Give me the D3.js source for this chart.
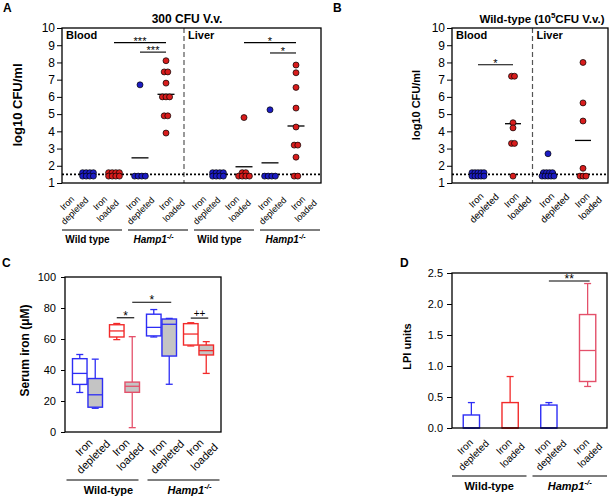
<!DOCTYPE html>
<html>
<head>
<meta charset="utf-8">
<script src="https://cdn.jsdelivr.net/npm/d3@7"></script>
<style>
  body { margin: 0; background: #fff; }
  text { font-family: "Liberation Sans", Arial, Helvetica, sans-serif; fill: #000; }
</style>
</head>
<body>
<script>
// ---------- data ----------
var catLabels = [["Iron", "depleted"], ["Iron", "loaded"]];
var genotypes = ["Wild type", "Hamp1"];

// A: 300 CFU V.v., log10 CFU/ml, groups = WT depleted, WT loaded, Hamp depleted, Hamp loaded
var aBlood = [
  [1.6, 1.6, 1.6, 1.6, 1.4, 1.4, 1.4, 1.4],
  [1.6, 1.6, 1.6, 1.6, 1.4, 1.4, 1.4, 1.4],
  [6.7, 1.4, 1.4, 1.4, 1.4],
  [8.1, 7.45, 7.45, 6.8, 6.0, 6.0, 6.0, 4.9, 4.9, 3.9]
];
var aLiver = [
  [1.6, 1.6, 1.6, 1.6, 1.4, 1.4, 1.4, 1.4],
  [4.8, 1.6, 1.6, 1.4, 1.4, 1.4, 1.4],
  [5.25, 1.4, 1.4, 1.4, 1.4],
  [7.85, 7.4, 6.55, 5.35, 4.25, 3.2, 3.2, 2.5, 1.4, 1.4]
];
var aSig = [
  { tissue: 0, from: 1, to: 3, y: 9.15, label: "***" },
  { tissue: 0, from: 2, to: 3, y: 8.6, label: "***" },
  { tissue: 1, from: 1, to: 3, y: 9.15, label: "*" },
  { tissue: 1, from: 2, to: 3, y: 8.55, label: "*" }
];

// B: wild-type, 10^5 CFU V.v., groups = depleted, loaded
var bBlood = [
  [1.6, 1.6, 1.6, 1.6, 1.6, 1.4, 1.4, 1.4, 1.4, 1.4],
  [7.2, 7.2, 4.5, 4.2, 3.3, 3.3, 1.4]
];
var bLiver = [
  [2.7, 1.6, 1.6, 1.6, 1.6, 1.4, 1.4, 1.4, 1.4, 1.4],
  [8.0, 5.65, 4.6, 1.85, 1.4, 1.4, 1.4]
];
var bSig = [{ tissue: 0, from: 0, to: 1, y: 7.87, label: "*" }];

var yTicksCFU = [1, 2, 3, 4, 5, 6, 7, 8, 9, 10];
var detectLimit = 1.5;

// C: serum iron (uM), box stats [min, q1, median, q3, max]
var cOpen = [
  [25.5, 30.7, 37.8, 47.3, 50],
  [59.6, 61.3, 65.2, 69.2, 70],
  [61.3, 62, 67.5, 76, 79],
  [55.5, 56.1, 63.2, 69.9, 70.5]
];
var cGray = [
  [15.3, 16, 24, 34.5, 47],
  [2.8, 25.6, 29.5, 32.2, 61.5],
  [30.8, 49, 69.5, 72.9, 73.3],
  [37.8, 49.7, 52.5, 56.1, 58.3]
];
var cSig = [
  { from: [1, 0], to: [1, 1], y: 73.7, label: "*" },
  { from: [1, 1], to: [2, 1], y: 83.7, label: "*" },
  { from: [3, 0], to: [3, 1], y: 73.5, label: "++" }
];
var cTicks = [0, 20, 40, 60, 80, 100];

// D: LPI units
var dBoxes = [
  [0, 0, 0, 0.21, 0.41],
  [0, 0, 0, 0.41, 0.83],
  [0, 0, 0, 0.37, 0.41],
  [0.67, 0.75, 1.25, 1.83, 2.33]
];
var dSig = [{ from: 2, to: 3, y: 2.37, label: "**" }];
var dTicks = [0, 0.5, 1, 1.5, 2, 2.5];

// ---------- styles ----------
var DOT_BLUE = "#1c1cc4", DOT_RED = "#d81c1c";
var BOX_BLUE = "#2d2df5", BOX_RED = "#f22a2a", BOX_RED_SOFT = "#e4506a";
var GRAY = "#c4c4c4", LINE_GRAY = "#555";

var svg = d3.select("body").append("svg")
  .attr("width", 612)
  .attr("height", 501);
svg.append("rect").attr("width", 612).attr("height", 501).attr("fill", "#fff");

function label(g, x, y, s, size, bold, anchor) {
  return g.append("text")
    .attr("x", x).attr("y", y)
    .attr("text-anchor", anchor || "start")
    .style("font-size", size + "px")
    .style("font-weight", bold ? "bold" : "normal")
    .text(s);
}

function hampLabel(g, x, y, size) {
  var t = g.append("text").attr("x", x).attr("y", y)
    .attr("text-anchor", "middle")
    .style("font-size", size + "px")
    .style("font-weight", "bold")
    .style("font-style", "italic");
  t.append("tspan").text("Hamp1");
  t.append("tspan").attr("dy", -size * 0.45).style("font-size", (size * 0.7) + "px").text("-/-");
}

function yLabel(g, x, y, s, size) {
  g.append("text")
    .attr("transform", "translate(" + x + "," + y + ") rotate(-90)")
    .attr("text-anchor", "middle")
    .style("font-size", size + "px")
    .style("font-weight", "bold")
    .text(s);
}

function rotLabel(g, x, y, lines, size) {
  var tg = g.append("g").attr("transform", "translate(" + x + "," + y + ") rotate(-45)");
  lines.forEach(function (l, i) {
    tg.append("text")
      .attr("y", (i - 0.5) * size * 1.2)
      .attr("dominant-baseline", "central")
      .attr("text-anchor", "middle")
      .style("font-size", size + "px")
      .text(l);
  });
}

function frame(g, c) {
  g.append("rect")
    .attr("x", c.left).attr("y", c.top)
    .attr("width", c.right - c.left).attr("height", c.bottom - c.top)
    .attr("fill", "none").attr("stroke", "#000").attr("stroke-width", 1.3);
}

function styleAxis(ax, size) {
  ax.select(".domain").remove();
  ax.selectAll("line").attr("stroke", "#000");
  ax.selectAll("text").style("font-size", size + "px").attr("fill", "#000");
}

// spread equal values side by side
function spread(vals, gap) {
  var counts = d3.rollup(vals, function (v) { return v.length; }, function (d) { return d; });
  var seen = new Map();
  return vals.map(function (v) {
    var n = counts.get(v), k = seen.get(v) || 0;
    seen.set(v, k + 1);
    return { v: v, dx: (k - (n - 1) / 2) * gap };
  });
}

function sigBar(g, x1, x2, yy, s, size) {
  g.append("line").attr("x1", x1).attr("x2", x2).attr("y1", yy).attr("y2", yy)
    .attr("stroke", "#000").attr("stroke-width", 1.1);
  label(g, (x1 + x2) / 2, yy + (s === "++" ? -1.5 : 2), s, size, false, "middle");
}

// ---------- dot plots (A, B) ----------
function dotPanel(cfg) {
  var g = svg.append("g");
  var y = d3.scaleLinear().domain([1, 10]).range([cfg.bottom, cfg.top]);

  var slots = [];
  cfg.tissues.forEach(function (t, ti) {
    if (ti > 0 && cfg.gap) slots.push("gap");
    t.groups.forEach(function (_, gi) { slots.push(ti + "-" + gi); });
  });
  var catSlots = slots.filter(function (s) { return s !== "gap"; });
  var x = d3.scalePoint().domain(slots).range(cfg.xRange);
  var lx = d3.scalePoint().domain(catSlots).range(cfg.labelRange);

  var ax = g.append("g").attr("transform", "translate(" + cfg.left + ",0)")
    .call(d3.axisLeft(y).tickValues(yTicksCFU).tickSize(5).tickPadding(2).tickFormat(d3.format("d")));
  styleAxis(ax, cfg.tickSize);

  var n0 = cfg.tissues[0].groups.length;
  var xd = (x("0-" + (n0 - 1)) + x("1-0")) / 2 + cfg.divShift;
  g.append("line").attr("x1", xd).attr("x2", xd).attr("y1", cfg.top).attr("y2", cfg.bottom)
    .attr("stroke", LINE_GRAY).attr("stroke-width", 1.2).attr("stroke-dasharray", "5,3");

  cfg.tissues.forEach(function (t, ti) {
    label(g, (ti === 0 ? cfg.left : xd) + 4, cfg.top + 11, t.name, cfg.tissueSize, true);
  });

  g.append("line")
    .attr("x1", cfg.left).attr("x2", cfg.right)
    .attr("y1", y(detectLimit)).attr("y2", y(detectLimit))
    .attr("stroke", "#000").attr("stroke-width", 1.8).attr("stroke-dasharray", "2,2");

  cfg.tissues.forEach(function (t, ti) {
    t.groups.forEach(function (vals, gi) {
      var cx = x(ti + "-" + gi);
      var m = d3.mean(vals);
      g.append("line")
        .attr("x1", cx - cfg.meanW / 2).attr("x2", cx + cfg.meanW / 2)
        .attr("y1", y(m)).attr("y2", y(m))
        .attr("stroke", "#000").attr("stroke-width", 1.3);
      g.selectAll(null).data(spread(vals, cfg.dotGap)).enter().append("circle")
        .attr("cx", function (d) { return cx + d.dx; })
        .attr("cy", function (d) { return y(d.v); })
        .attr("r", cfg.r)
        .attr("fill", gi % 2 === 0 ? DOT_BLUE : DOT_RED)
        .attr("stroke", "#000").attr("stroke-width", 0.7);
    });
  });

  cfg.sig.forEach(function (s) {
    sigBar(g, x(s.tissue + "-" + s.from), x(s.tissue + "-" + s.to), y(s.y), s.label, 11);
  });

  frame(g, cfg);

  catSlots.forEach(function (s) {
    var gi = +s.split("-")[1];
    rotLabel(g, lx(s), cfg.bottom + cfg.labelDy, catLabels[gi % 2], cfg.labelSize);
  });

  if (cfg.genoLines) {
    cfg.tissues.forEach(function (t, ti) {
      genotypes.forEach(function (gname, k) {
        var a = lx(ti + "-" + (2 * k)), b = lx(ti + "-" + (2 * k + 1));
        g.append("line").attr("x1", a - 9).attr("x2", b + 18)
          .attr("y1", cfg.genoY).attr("y2", cfg.genoY)
          .attr("stroke", LINE_GRAY).attr("stroke-width", 1.5);
        if (k === 0) label(g, (a + b) / 2, cfg.genoY + 13, gname, 10, true, "middle");
        else hampLabel(g, (a + b) / 2, cfg.genoY + 13, 10);
      });
    });
  }
}

// ---------- box plots (C, D) ----------
function boxPanel(cfg) {
  var g = svg.append("g");
  var y = d3.scaleLinear().domain(cfg.yDomain).range([cfg.bottom, cfg.top]);
  var x = d3.scaleBand().domain(d3.range(4)).range([cfg.left, cfg.right])
    .paddingInner(cfg.padIn).paddingOuter(cfg.padOut);
  var sub = d3.scaleBand().domain(d3.range(cfg.series.length))
    .range([cfg.subInset, x.bandwidth() - cfg.subInset]).paddingInner(cfg.subPad);

  var ax = g.append("g").attr("transform", "translate(" + cfg.left + ",0)")
    .call(d3.axisLeft(y).tickValues(cfg.ticks).tickSize(cfg.tickLen).tickPadding(cfg.tickPad)
      .tickFormat(d3.format(cfg.fmt)));
  styleAxis(ax, cfg.tickSize);

  function boxX(ci, si) { return x(ci) + sub(si) + sub.bandwidth() / 2; }

  cfg.series.forEach(function (ser, si) {
    ser.data.forEach(function (st, ci) {
      var cx = boxX(ci, si), bw = sub.bandwidth();
      var col = cfg.colors[si][ci];
      var cap = cfg.capW / 2;
      [[st[0], st[1]], [st[3], st[4]]].forEach(function (p) {
        g.append("line").attr("x1", cx).attr("x2", cx).attr("y1", y(p[0])).attr("y2", y(p[1]))
          .attr("stroke", col).attr("stroke-width", 1.3);
      });
      [st[0], st[4]].forEach(function (v) {
        g.append("line").attr("x1", cx - cap).attr("x2", cx + cap).attr("y1", y(v)).attr("y2", y(v))
          .attr("stroke", col).attr("stroke-width", 1.3);
      });
      g.append("rect")
        .attr("x", cx - bw / 2).attr("y", y(st[3]))
        .attr("width", bw).attr("height", y(st[1]) - y(st[3]))
        .attr("fill", ser.fill).attr("stroke", col).attr("stroke-width", 1.4);
      g.append("line").attr("x1", cx - bw / 2).attr("x2", cx + bw / 2)
        .attr("y1", y(st[2])).attr("y2", y(st[2]))
        .attr("stroke", col).attr("stroke-width", 1.3);
    });
  });

  cfg.sig.forEach(function (s) {
    var x1 = cfg.series.length > 1 ? boxX(s.from[0], s.from[1]) : boxX(s.from, 0);
    var x2 = cfg.series.length > 1 ? boxX(s.to[0], s.to[1]) : boxX(s.to, 0);
    sigBar(g, x1, x2 + 2, y(s.y), s.label, s.label === "++" ? 10 : 12);
  });

  frame(g, cfg);

  d3.range(4).forEach(function (ci) {
    var cx = x(ci) + x.bandwidth() / 2;
    rotLabel(g, cx + cfg.labelDx, cfg.bottom + cfg.labelDy, catLabels[ci % 2], cfg.labelSize);
  });

  var step = x.step();
  var c0 = x(0) + x.bandwidth() / 2, c3 = x(3) + x.bandwidth() / 2;
  var mid = (x(1) + x(2) + x.bandwidth()) / 2;
  var spans = [[c0 - step / 2 - cfg.lineOut, mid - cfg.lineIn], [mid + cfg.lineIn, c3 + step / 2 + cfg.lineOut]];
  spans.forEach(function (sp, k) {
    g.append("line").attr("x1", sp[0]).attr("x2", sp[1]).attr("y1", cfg.genoY).attr("y2", cfg.genoY)
      .attr("stroke", LINE_GRAY).attr("stroke-width", 1.5);
    var lxm = (sp[0] + sp[1]) / 2 + cfg.genoDx;
    if (k === 0) label(g, lxm, cfg.genoY + 14, "Wild-type", 11, true, "middle");
    else hampLabel(g, lxm, cfg.genoY + 14, 11);
  });

  yLabel(g, cfg.yLabelX, (cfg.top + cfg.bottom) / 2 - 4, cfg.yLabel, cfg.yLabelSize);
}

// ---------- panel A ----------
label(svg, 3, 12, "A", 12, true);
label(svg, 187, 23, "300 CFU V.v.", 12, true, "middle");
yLabel(svg, 22, 105, "log10 CFU/ml", 13);
dotPanel({
  left: 62, right: 321, top: 28, bottom: 183,
  tissues: [{ name: "Blood", groups: aBlood }, { name: "Liver", groups: aLiver }],
  gap: true, xRange: [88, 296], labelRange: [71, 302], divShift: -8,
  tickSize: 12, tissueSize: 11, labelSize: 9, labelDy: 24,
  meanW: 17, dotGap: 3.6, r: 3,
  sig: aSig, genoLines: true, genoY: 230
});

// ---------- panel B ----------
label(svg, 333, 12, "B", 12, true);
var bt = svg.append("text").attr("x", 542).attr("y", 23).attr("text-anchor", "middle")
  .style("font-size", "11.5px").style("font-weight", "bold");
bt.append("tspan").text("Wild-type (10");
bt.append("tspan").attr("dy", -5).style("font-size", "8px").text("5");
bt.append("tspan").attr("dy", 5).text("CFU V.v.)");
yLabel(svg, 420, 105, "log10 CFU/ml", 11);
dotPanel({
  left: 452, right: 608, top: 28, bottom: 183,
  tissues: [{ name: "Blood", groups: bBlood }, { name: "Liver", groups: bLiver }],
  gap: false, xRange: [478, 583], labelRange: [480, 586], divShift: 2,
  tickSize: 12, tissueSize: 11, labelSize: 9.5, labelDy: 21,
  meanW: 16, dotGap: 3, r: 3,
  sig: bSig, genoLines: false
});

// ---------- panel C ----------
label(svg, 2, 267, "C", 12, true);
boxPanel({
  left: 65, right: 221, top: 277, bottom: 432,
  yDomain: [0, 100], ticks: cTicks, fmt: "d", tickLen: 4, tickPad: 5, tickSize: 11,
  padIn: 0, padOut: 0.108, subInset: 3.5, subPad: 0.06, capW: 7,
  series: [{ fill: "#fff", data: cOpen }, { fill: GRAY, data: cGray }],
  colors: [[BOX_BLUE, BOX_RED, BOX_BLUE, BOX_RED], [BOX_BLUE, BOX_RED_SOFT, BOX_BLUE, BOX_RED]],
  sig: cSig,
  labelDx: 1, labelDy: 20, labelSize: 11,
  genoY: 480, lineOut: 2.5, lineIn: 4.5, genoDx: 6,
  yLabel: "Serum iron (\u03bcM)", yLabelX: 29, yLabelSize: 12
});

// ---------- panel D ----------
label(svg, 400, 267, "D", 12, true);
boxPanel({
  left: 452, right: 607, top: 273, bottom: 428,
  yDomain: [0, 2.5], ticks: dTicks, fmt: ".1f", tickLen: 5, tickPad: 4, tickSize: 11,
  padIn: 0.58, padOut: 0.29, subInset: 0, subPad: 0, capW: 7,
  series: [{ fill: "#fff", data: dBoxes }],
  colors: [[BOX_BLUE, BOX_RED, BOX_BLUE, BOX_RED_SOFT]],
  sig: dSig,
  labelDx: -2, labelDy: 23, labelSize: 10,
  genoY: 476, lineOut: 0, lineIn: 3, genoDx: 0,
  yLabel: "LPI units", yLabelX: 411, yLabelSize: 11
});
</script>
</body>
</html>
